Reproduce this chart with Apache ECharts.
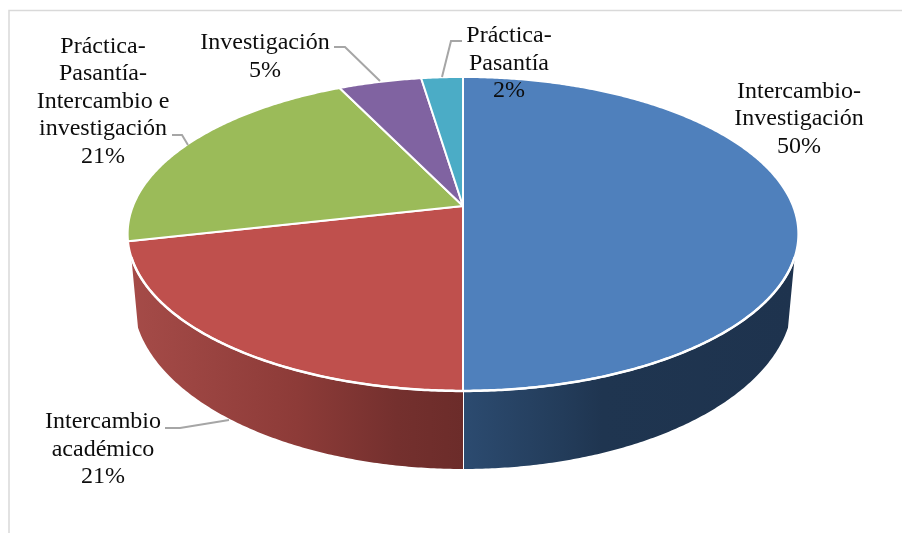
<!DOCTYPE html>
<html><head><meta charset="utf-8">
<style>html,body{margin:0;padding:0;background:#fff}#c{width:902px;height:533px}</style>
<script src="https://cdn.jsdelivr.net/npm/echarts@6/dist/echarts.min.js"></script>
</head><body><div id="c"></div>
<script>
// Data
const categories = ['Intercambio-\nInvestigación', 'Intercambio\nacadémico', 'Práctica-\nPasantía-\nIntercambio e\ninvestigación', 'Investigación', 'Práctica-\nPasantía'];
const counts = [21, 9, 9, 2, 1];

// Styles
const topColors = ['#4f80bc', '#bf504d', '#9bbb59', '#8063a1', '#4bacc6'];
const wallStops = [
  [[0, '#2c4b70'], [0.3, '#233c5a'], [0.42, '#1f3550'], [1, '#1e334e']],
  [[0, '#a54b48'], [0.5, '#8d3b38'], [0.8, '#74302e'], [1, '#6c2c2a']],
  null, null, null
];
const labelCenters = [[799, 119], [103, 449.5], [103, 101.5], [265, 56.5], [509, 63.5]];
const leaderLines = [
  null,
  [[165, 428], [180, 428], [229, 420]],
  [[172, 135], [182, 135], [188, 145]],
  [[334, 47], [345, 47], [380, 81]],
  [[462, 41], [451, 41], [442, 77]]
];

// Projection of the pie (perspective disc, angle measured clockwise from the top)
const D2R = Math.PI / 180;
const disc = {cx: 463, cy: 206, a: 330, b: 152, p: 0.178};
const lowerDisc = {cx: 463, cy: 298, rx: 330, ry: 171, maxPhi: 80};
const wallLimit = 71.5; // wall visible within this many degrees either side of the front
function topPoint(t) {
  const s = Math.sin(t * D2R), c = Math.cos(t * D2R), w = 1 + disc.p * c;
  return [disc.cx + disc.a * s / w, disc.cy - disc.b * c / w];
}
function bottomPoint(t) {
  const off = (t - 180) / wallLimit * lowerDisc.maxPhi * D2R;
  return [lowerDisc.cx - lowerDisc.rx * Math.sin(off), lowerDisc.cy + lowerDisc.ry * Math.cos(off)];
}
function arc(fn, a, b) {
  const n = Math.max(2, Math.ceil(Math.abs(b - a) * 2)), out = [];
  for (let i = 0; i <= n; i++) out.push(fn(a + (b - a) * i / n));
  return out;
}

const total = counts.reduce((s, v) => s + v, 0);
function startAngle(i) {
  let s = 0;
  for (let k = 0; k < i; k++) s += counts[k];
  return s / total * 360;
}

function renderItem(params, api) {
  const i = params.dataIndex, v = api.value(0);
  const a0 = startAngle(i), a1 = a0 + v / total * 360;
  const children = [];
  // side wall
  const wa = Math.max(a0, 180 - wallLimit), wb = Math.min(a1, 180 + wallLimit);
  if (wb > wa && wallStops[i]) {
    const t = arc(topPoint, wa, wb), b = arc(bottomPoint, wb, wa);
    children.push({type: 'polygon', shape: {points: t.concat(b)}, style: {
      fill: {type: 'linear', x: 0, y: 0, x2: 1, y2: 0, global: false,
        colorStops: wallStops[i].map(s => ({offset: s[0], color: s[1]}))},
      stroke: null}});
  }
  // top face
  children.push({type: 'polygon', shape: {points: [[disc.cx, disc.cy]].concat(arc(topPoint, a0, a1))},
    style: {fill: topColors[i], stroke: '#fff', lineWidth: 2, lineJoin: 'round'}});
  // white rim and divider on the wall
  if (wb > wa && wallStops[i]) {
    children.push({type: 'polyline', shape: {points: arc(topPoint, wa, wb)}, style: {fill: null, stroke: '#fff', lineWidth: 2.5}});
    if (a1 <= 180) {
      children.push({type: 'polyline', shape: {points: [topPoint(180), bottomPoint(180)]}, style: {fill: null, stroke: '#fff', lineWidth: 2}});
    }
  }
  // leader line
  if (leaderLines[i]) {
    children.push({type: 'polyline', shape: {points: leaderLines[i]}, style: {fill: null, stroke: '#a6a6a6', lineWidth: 2}, z2: 5});
  }
  // label
  children.push({type: 'text', z2: 10, style: {
    text: categories[i] + '\n' + Math.round(v / total * 100) + '%',
    x: labelCenters[i][0], y: labelCenters[i][1], align: 'center', verticalAlign: 'middle',
    fontFamily: '"Liberation Serif", serif', fontSize: 24, lineHeight: 27.6, fill: '#0d0d0d'}});
  return {type: 'group', children};
}

const chart = echarts.init(document.getElementById('c'), null, {renderer: 'canvas'});
chart.setOption({
  animation: false,
  backgroundColor: '#fff',
  graphic: [{type: 'polyline', silent: true, z: 0,
    shape: {points: [[9, 533], [9, 10.5], [902, 10.5]]},
    style: {fill: null, stroke: '#d9d9d9', lineWidth: 1.5}}],
  series: [{
    type: 'custom', coordinateSystem: 'none', silent: true, clip: false, z: 2,
    data: counts.map((v, i) => ({name: categories[i], value: [v]})),
    encode: {value: 0},
    renderItem
  }]
});
</script></body></html>
